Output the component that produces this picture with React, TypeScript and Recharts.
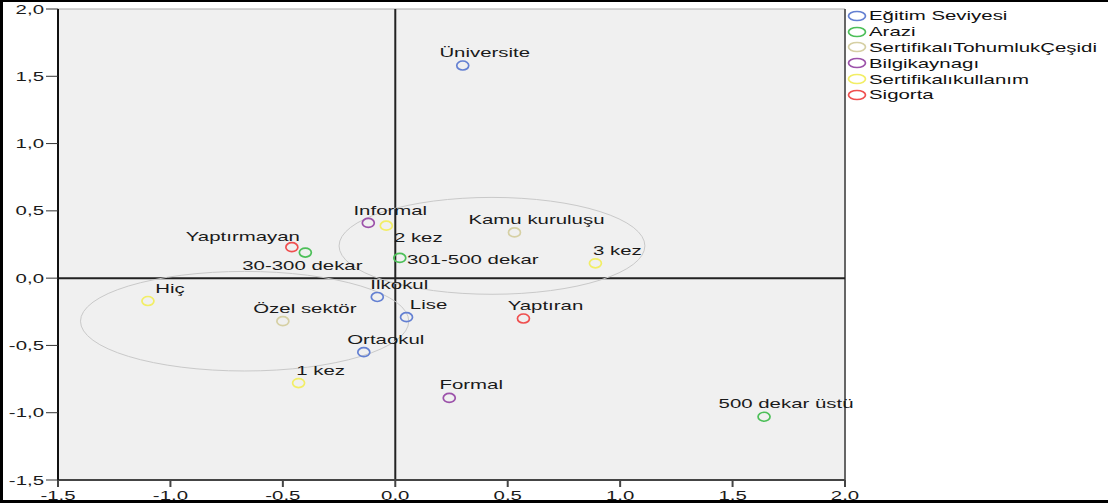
import {
  CartesianGrid,
  ReferenceDot,
  ReferenceLine,
  Scatter,
  ScatterChart,
  XAxis,
  YAxis,
} from "recharts";

const egitimSeviyesi = [
  { name: "Üniversite", x: 0.3, y: 1.58 },
  { name: "İlkokul", x: -0.08, y: -0.14 },
  { name: "Lise", x: 0.05, y: -0.29 },
  { name: "Ortaokul", x: -0.14, y: -0.55 },
];
const arazi = [
  { name: "30-300 dekar", x: -0.4, y: 0.19 },
  { name: "301-500 dekar", x: 0.02, y: 0.15 },
  { name: "500 dekar üstü", x: 1.64, y: -1.03 },
];
const tohumlukCesidi = [
  { name: "Kamu kuruluşu", x: 0.53, y: 0.34 },
  { name: "Özel sektör", x: -0.5, y: -0.32 },
];
const bilgiKaynagi = [
  { name: "Informal", x: -0.12, y: 0.41 },
  { name: "Formal", x: 0.24, y: -0.89 },
];
const sertifikaliKullanim = [
  { name: "2 kez", x: -0.04, y: 0.39 },
  { name: "3 kez", x: 0.89, y: 0.11 },
  { name: "Hiç", x: -1.1, y: -0.17 },
  { name: "1 kez", x: -0.43, y: -0.78 },
];
const sigorta = [
  { name: "Yaptırmayan", x: -0.46, y: 0.23 },
  { name: "Yaptıran", x: 0.57, y: -0.3 },
];

const ticks = [-1.5, -1, -0.5, 0, 0.5, 1, 1.5, 2];

// confidence ellipses, in data units
const ellipses = [
  { cx: 0.43, cy: 0.24, rx: 0.68, ry: 0.36 },
  { cx: -0.67, cy: -0.32, rx: 0.73, ry: 0.37 },
];

const series = [
  { name: "Eğitim Seviyesi", color: "#6480d2", data: egitimSeviyesi },
  { name: "Arazi", color: "#4cbf58", data: arazi },
  { name: "SertifikalıTohumlukÇeşidi", color: "#d6d0a4", data: tohumlukCesidi },
  { name: "Bilgikaynagı", color: "#9c52aa", data: bilgiKaynagi },
  { name: "Sertifikalıkullanım", color: "#f2ee66", data: sertifikaliKullanim },
  { name: "Sigorta", color: "#ef4f4f", data: sigorta },
];

const labelShift: Record<string, [number, number]> = {
  "30-300 dekar": [-3, 13],
  "301-500 dekar": [73, 1],
  "2 kez": [32, 12],
  Yaptırmayan: [-49, -11],
};

const W = 1108;
const H = 503;
const M = { top: 9, right: 263, bottom: 0, left: 0 };
const Y_W = 58;
const X_H = 23;
const PX_X = (W - M.right - Y_W) / 3.5;
const PX_Y = (H - M.top - X_H) / 3.5;
const SX = 1.57;
const FONT = "'Liberation Sans', Arial, sans-serif";

const fmt = (v: number) => v.toFixed(1).replace(".", ",");

const YTick = (props: any) => {
  const { x, y, payload } = props;
  return (
    <g transform={`translate(${x},${y}) scale(${SX},1)`}>
      <text x={0} y={0} dy="0.35em" textAnchor="end" fontSize={13} fill="#1a1a1a" fontFamily={FONT}>
        {fmt(payload.value)}
      </text>
    </g>
  );
};

const XTick = (props: any) => {
  const { x, y, payload } = props;
  return (
    <g transform={`translate(${x},${y}) scale(${SX},1)`}>
      <text x={0} y={11} textAnchor="middle" fontSize={13} fill="#1a1a1a" fontFamily={FONT}>
        {fmt(payload.value)}
      </text>
    </g>
  );
};

const makeShape = (color: string) => (props: any) => {
  const { cx, cy, payload } = props;
  const [dx, dy] = labelShift[payload.name] ?? [22, -13];
  return (
    <g>
      <ellipse cx={cx} cy={cy} rx={6} ry={4.5} fill="none" stroke={color} strokeWidth={1.7} />
      <g transform={`translate(${cx + dx},${cy + dy}) scale(${SX},1)`}>
        <text x={0} y={0} dy="0.35em" textAnchor="middle" fontSize={13} fill="#1a1a1a" fontFamily={FONT}>
          {payload.name}
        </text>
      </g>
    </g>
  );
};

const LegendBox = () => (
  <div style={{ position: "absolute", left: 847, top: 8, fontFamily: FONT, fontSize: 13, color: "#111" }}>
    {series.map((s) => (
      <div key={s.name} style={{ height: 15.8, display: "flex", alignItems: "center" }}>
        <svg width={20} height={12} style={{ flex: "none" }}>
          <ellipse cx={10} cy={6} rx={8.5} ry={4.5} fill="none" stroke={s.color} strokeWidth={1.7} />
        </svg>
        <span style={{ display: "inline-block", transform: `scaleX(${SX})`, transformOrigin: "left", whiteSpace: "nowrap", marginLeft: 2 }}>
          {s.name}
        </span>
      </div>
    ))}
  </div>
);

const App = () => {
  return (
    <div style={{ position: "absolute", left: 0, top: 0, width: W, height: H, background: "#fff", overflow: "hidden" }}>
      <ScatterChart width={W} height={H} margin={M}>
        <CartesianGrid horizontal={false} vertical={false} fill="#f0f0f0" />
        <XAxis
          type="number"
          dataKey="x"
          domain={[-1.5, 2]}
          ticks={ticks}
          interval={0}
          height={X_H}
          tickSize={7}
          tickMargin={2}
          tick={<XTick />}
          axisLine={{ stroke: "#444", strokeWidth: 2 }}
          tickLine={{ stroke: "#444", strokeWidth: 2 }}
        />
        <YAxis
          type="number"
          dataKey="y"
          domain={[-1.5, 2]}
          ticks={ticks}
          interval={0}
          width={Y_W}
          tickSize={12}
          tickMargin={2}
          tick={<YTick />}
          axisLine={{ stroke: "#111", strokeWidth: 2 }}
          tickLine={{ stroke: "#333" }}
        />
        <ReferenceLine y={2} stroke="#aaa" />
        <ReferenceLine x={2} stroke="#666" strokeWidth={2} />
        {ellipses.map((e, i) => (
          <ReferenceDot
            key={i}
            x={e.cx}
            y={e.cy}
            r={1}
            shape={(p: any) => (
              <ellipse cx={p.cx} cy={p.cy} rx={e.rx * PX_X} ry={e.ry * PX_Y} fill="none" stroke="#c9c9c9" strokeWidth={1} />
            )}
          />
        ))}
        <ReferenceLine x={0} stroke="#222" strokeWidth={2} />
        <ReferenceLine y={0} stroke="#222" strokeWidth={2} />
        {series.map((s) => (
          <Scatter
            key={s.name}
            name={s.name}
            data={s.data}
            fill={s.color}
            shape={makeShape(s.color)}
            isAnimationActive={false}
          />
        ))}
      </ScatterChart>
      <LegendBox />
      <div
        style={{
          position: "absolute",
          left: 0,
          top: 0,
          width: W,
          height: H,
          boxSizing: "border-box",
          borderTop: "2px solid #000",
          borderLeft: "3px solid #000",
          borderBottom: "3px solid #000",
          pointerEvents: "none",
        }}
      />
    </div>
  );
};

export default App;
